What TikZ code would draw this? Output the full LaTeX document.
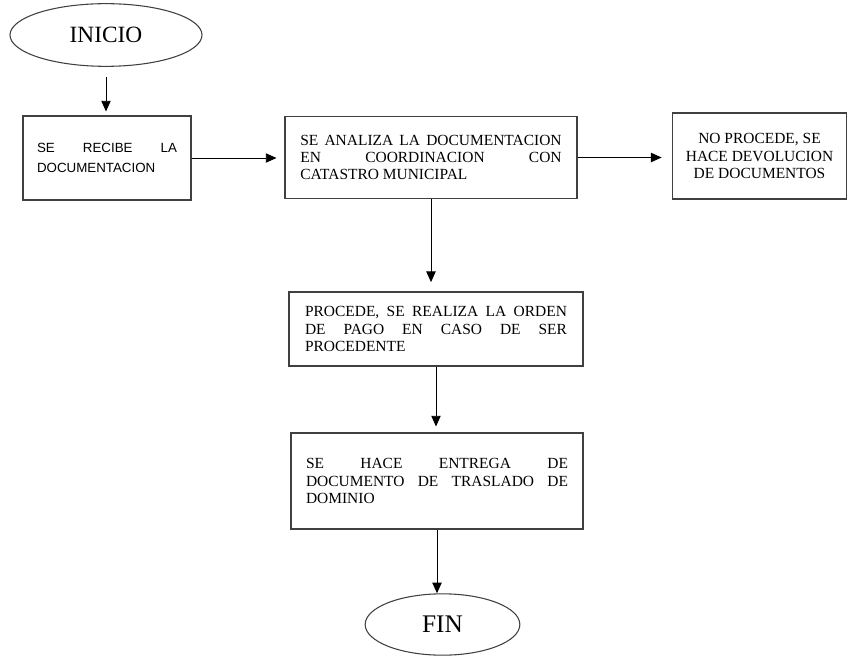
\documentclass[tikz,border=0pt]{standalone}
\usepackage{fontspec}
\setmainfont{Liberation Serif}
\newfontfamily\arialfont{Liberation Sans}
\usetikzlibrary{arrows.meta,shapes.geometric}
\hyphenpenalty=10000
\begin{document}
\begin{tikzpicture}[x=0.75pt, y=-0.75pt,
  >={Triangle[length=8pt,width=7pt]},
  term/.style={draw=black!75, ellipse, line width=0.8pt, inner sep=0pt},
  paso/.style={draw=black!75, rectangle, line width=0.8pt, align=justify, inner sep=0pt,
               font=\fontsize{11.6}{13}\selectfont},
  arr/.style={->, line width=0.7pt}]
  \useasboundingbox (0,0) rectangle (848,656);
  \node[term, minimum width=144pt, minimum height=47pt, font=\fontsize{17.5}{20}\selectfont] (inicio) at (106,35) {INICIO};
  \node[paso, minimum width=126pt, minimum height=63pt, text width=105pt,
        font=\arialfont\fontsize{10}{15}\selectfont] (recibe) at (107,158) {SE RECIBE LA\linebreak DOCUMENTACION};
  \node[paso, minimum width=219pt, minimum height=62pt, text width=196pt] (analiza) at (431,157.5) {SE ANALIZA LA DOCUMENTACION\linebreak EN COORDINACION CON\linebreak CATASTRO MUNICIPAL};
  \node[paso, align=center, minimum width=131pt, minimum height=64.5pt] (noprocede) at (759.5,156) {NO PROCEDE, SE\\ HACE DEVOLUCION\\ DE DOCUMENTOS};
  \node[paso, minimum width=220.5pt, minimum height=55.5pt, text width=196.5pt] (procede) at (436,329) {PROCEDE, SE REALIZA LA ORDEN\linebreak DE PAGO EN CASO DE SER\linebreak PROCEDENTE};
  \node[paso, minimum width=219pt, minimum height=72pt, text width=196.5pt] (entrega) at (437,481) {SE HACE ENTREGA DE\linebreak DOCUMENTO DE TRASLADO DE\linebreak DOMINIO};
  \node[term, minimum width=116pt, minimum height=46pt, font=\fontsize{19}{22}\selectfont] (fin) at (442.5,624.5) {FIN};
  \draw[arr, shorten <=7.5pt, shorten >=3pt] (inicio.south) -- (inicio.south |- recibe.north);
  \draw[arr, shorten >=6pt] (recibe.east) -- (analiza.west |- recibe.east);
  \draw[arr, shorten >=7.5pt] (analiza.east) -- (noprocede.west |- analiza.east);
  \draw[arr, shorten >=7pt] (analiza.south) -- (analiza.south |- procede.north);
  \draw[arr, shorten >=4.5pt] (procede.south) -- (procede.south |- entrega.north);
  \draw[arr] (entrega.south) -- (entrega.south |- fin.north);
\end{tikzpicture}
\end{document}
